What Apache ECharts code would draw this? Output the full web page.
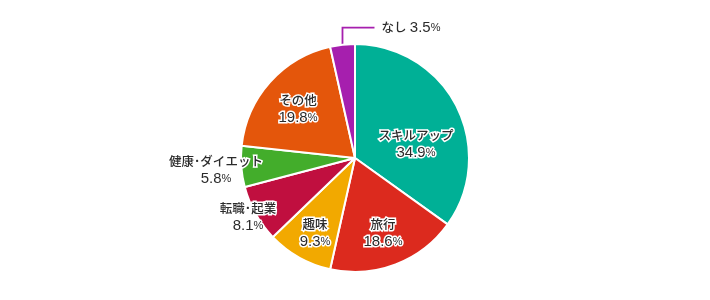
<!DOCTYPE html>
<html><head><meta charset="utf-8">
<script src="https://cdn.jsdelivr.net/npm/echarts@6/dist/echarts.min.js"></script>
<style>html,body{margin:0;padding:0;background:#fff}#c{width:710px;height:300px}</style>
</head><body><div id="c"></div>
<script>
const categories = ['スキルアップ', '旅行', '趣味', '転職･起業', '健康･ダイエット', 'その他', 'なし'];
const values = [34.9, 18.6, 9.3, 8.1, 5.8, 19.8, 3.5];
const colors = ['#00b096', '#dc2a1e', '#f2a900', '#c00f3f', '#43ad2b', '#e4560b', '#a61fae'];

const CX = 355, CY = 158, R = 114;
// label block centres relative to pie centre (null = leader-line label)
const labelPos = [[61, -14], [28, 75], [-40, 75], [-107, 59], [-139, 12], [-57, -49], null];

const txt = { color: '#2b2b2b', textBorderColor: '#fff', textBorderWidth: 3 };
const chart = echarts.init(document.getElementById('c'), null, { renderer: 'canvas' });
chart.setOption({
  animation: false,
  series: [{
    type: 'pie',
    center: [CX, CY],
    radius: R,
    startAngle: 90,
    clockwise: true,
    avoidLabelOverlap: false,
    itemStyle: { borderColor: '#fff', borderWidth: 2 },
    label: {
      show: true,
      position: 'inside',
      formatter: p => p.dataIndex === 6
        ? `{n|${p.name}} {v|${p.value.toFixed(1)}}{p|%}`
        : `{n|${p.name}}\n{v|${p.value.toFixed(1)}}{p|%}`,
      rich: {
        n: Object.assign({ fontSize: 12.5, lineHeight: 18, fontWeight: 500, fontFamily: 'Noto Sans CJK JP' }, txt),
        v: Object.assign({ fontSize: 15, lineHeight: 18, fontFamily: 'Liberation Sans' }, txt),
        p: Object.assign({ fontSize: 11, lineHeight: 18, fontFamily: 'Liberation Sans' }, txt)
      }
    },
    labelLine: { show: false },
    labelLayout: function (params) {
      const i = params.dataIndex;
      if (labelPos[i]) {
        return { x: CX + labelPos[i][0], y: CY + labelPos[i][1], align: 'center', verticalAlign: 'middle' };
      }
      const p0 = params.labelLinePoints ? params.labelLinePoints[0] : [CX, CY - R];
      const y = p0[1] - 17;
      return {
        x: p0[0] + 39, y: y, align: 'left', verticalAlign: 'middle',
        labelLinePoints: [[p0[0], p0[1]], [p0[0], y], [p0[0] + 32, y]]
      };
    },
    data: categories.map((c, i) => {
      const d = { name: c, value: values[i], itemStyle: { color: colors[i] } };
      if (i === 6) {
        d.label = { position: 'outside' };
        d.labelLine = { show: true, length: 17, length2: 32, lineStyle: { color: colors[i], width: 1.8 } };
      }
      return d;
    })
  }]
});
</script>
</body></html>
